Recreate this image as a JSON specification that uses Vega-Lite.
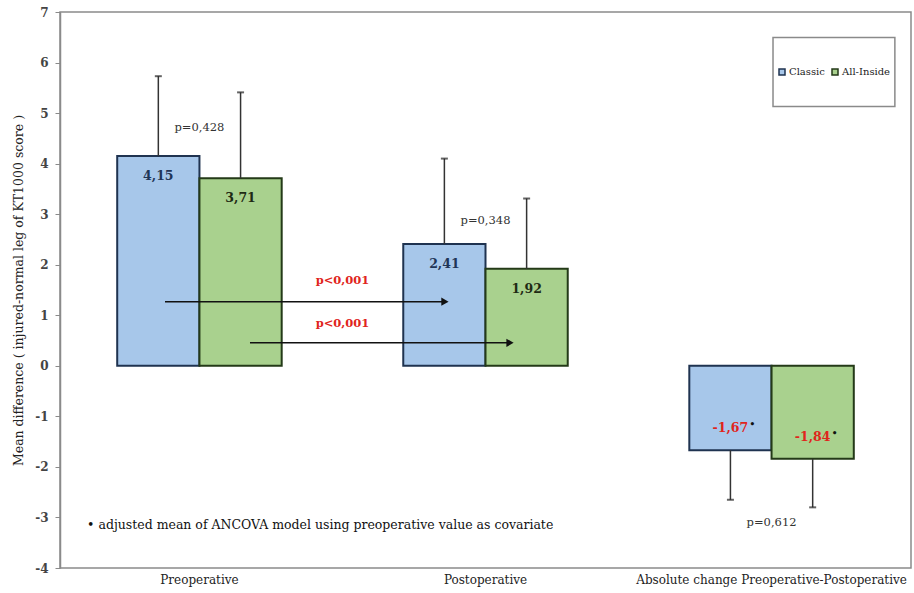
{
  "$schema": "https://vega.github.io/schema/vega-lite/v6.json",
  "autosize": "none",
  "width": 851,
  "height": 556,
  "padding": {"left": 60, "top": 12, "right": 3, "bottom": 25},
  "background": "white",
  "config": {
    "view": {"stroke": "#8a8a8a", "strokeWidth": 1.5},
    "font": "DejaVu Serif"
  },
  "datasets": {
    "bars": [
      {"cat": "Preoperative", "series": "Classic", "value": 4.15, "err": 5.73, "label": "4,15"},
      {"cat": "Preoperative", "series": "All-Inside", "value": 3.71, "err": 5.41, "label": "3,71"},
      {"cat": "Postoperative", "series": "Classic", "value": 2.41, "err": 4.10, "label": "2,41"},
      {"cat": "Postoperative", "series": "All-Inside", "value": 1.92, "err": 3.31, "label": "1,92"},
      {"cat": "Absolute change Preoperative-Postoperative", "series": "Classic", "value": -1.67, "err": -2.65, "label": "-1,67"},
      {"cat": "Absolute change Preoperative-Postoperative", "series": "All-Inside", "value": -1.84, "err": -2.80, "label": "-1,84"}
    ],
    "pvals": [
      {"cat": "Preoperative", "y": 4.71, "text": "p=0,428"},
      {"cat": "Postoperative", "y": 2.87, "text": "p=0,348"},
      {"cat": "Absolute change Preoperative-Postoperative", "y": -3.11, "text": "p=0,612"}
    ],
    "arrows": [
      {"x": -0.1206, "x2": 0.858, "y": 1.27},
      {"x": 0.1765, "x2": 1.0855, "y": 0.455}
    ],
    "notes": [
      {"x": 0.5, "y": 1.68, "text": "p<0,001"},
      {"x": 0.5, "y": 0.83, "text": "p<0,001"}
    ],
    "foot": [
      {"x": -0.393, "y": -3.15, "text": "• adjusted mean of ANCOVA model using preoperative value as covariate"}
    ],
    "box": [
      {"x": 2.005, "x2": 2.431, "y": 6.495, "y2": 5.129}
    ]
  },
  "resolve": {"scale": {"x": "independent"}},
  "layer": [
    {
      "layer": [
        {
          "data": {"name": "bars"},
          "mark": {"type": "bar", "strokeWidth": 2},
          "encoding": {
            "x": {
              "field": "cat", "type": "nominal", "sort": null,
              "scale": {"paddingInner": 0.425, "paddingOuter": 0.2},
              "axis": {"title": null, "labelAngle": 0, "ticks": false, "domain": false, "labelFont": "DejaVu Serif", "labelFontSize": 12, "labelColor": "#222", "labelPadding": 6, "labelLimit": 400}
            },
            "xOffset": {"field": "series", "type": "nominal", "sort": ["Classic", "All-Inside"], "scale": {"paddingInner": 0, "paddingOuter": 0}},
            "y": {
              "field": "value", "type": "quantitative",
              "scale": {"domain": [-4, 7], "nice": false, "zero": false},
              "axis": {
                "values": [-4, -3, -2, -1, 0, 1, 2, 3, 4, 5, 6, 7],
                "format": "d",
                "labelExpr": "replace(datum.label, '−', '-')",
                "grid": false, "tickSize": 5, "tickColor": "#8a8a8a", "domainColor": "#8a8a8a", "domainWidth": 1.5,
                "labelFont": "DejaVu Serif", "labelFontWeight": "bold", "labelFontSize": 12, "labelColor": "#444", "labelPadding": 7,
                "title": "Mean difference ( injured-normal leg of KT1000 score )",
                "titleFont": "DejaVu Serif", "titleFontSize": 12.5, "titleFontWeight": "normal", "titleColor": "#222", "titlePadding": 9
              }
            },
            "fill": {
              "field": "series", "type": "nominal", "sort": ["Classic", "All-Inside"],
              "scale": {"domain": ["Classic", "All-Inside"], "range": ["#a7c7ea", "#a9d18e"]},
              "legend": {
                "title": null, "orient": "none", "legendX": 717, "legendY": 55, "direction": "horizontal",
                "symbolType": "square", "symbolSize": 36, "symbolStrokeWidth": 1.5, "symbolStrokeColor": "#1f2a3a",
                "labelFont": "DejaVu Serif", "labelFontSize": 10, "labelColor": "#222", "labelOffset": 2,
                "columnPadding": 4, "padding": 0
              }
            },
            "stroke": {
              "field": "series", "type": "nominal",
              "scale": {"domain": ["Classic", "All-Inside"], "range": ["#1f3350", "#243a18"]},
              "legend": null
            }
          }
        },
        {
          "data": {"name": "bars"},
          "mark": {"type": "rule", "strokeWidth": 1.5, "color": "#333"},
          "encoding": {
            "x": {"field": "cat", "type": "nominal", "sort": null},
            "xOffset": {"field": "series", "type": "nominal", "sort": ["Classic", "All-Inside"]},
            "y": {"field": "value", "type": "quantitative"},
            "y2": {"field": "err"}
          }
        },
        {
          "data": {"name": "bars"},
          "mark": {"type": "tick", "size": 7, "thickness": 2, "color": "#222", "orient": "horizontal"},
          "encoding": {
            "x": {"field": "cat", "type": "nominal", "sort": null},
            "xOffset": {"field": "series", "type": "nominal", "sort": ["Classic", "All-Inside"]},
            "y": {"field": "err", "type": "quantitative"}
          }
        },
        {
          "data": {"name": "bars"},
          "transform": [{"filter": "datum.value > 0"}],
          "mark": {"type": "text", "dy": 20, "baseline": "middle", "font": "DejaVu Serif", "fontSize": 12.5, "fontWeight": "bold"},
          "encoding": {
            "x": {"field": "cat", "type": "nominal", "sort": null},
            "xOffset": {"field": "series", "type": "nominal", "sort": ["Classic", "All-Inside"]},
            "y": {"field": "value", "type": "quantitative"},
            "text": {"field": "label"},
            "color": {"condition": {"test": "datum.series === 'Classic'", "value": "#1f3557"}, "value": "#1e2a14"}
          }
        },
        {
          "data": {"name": "bars"},
          "transform": [{"filter": "datum.value < 0"}],
          "mark": {"type": "text", "dy": -22, "baseline": "middle", "font": "DejaVu Serif", "fontSize": 12.5, "fontWeight": "bold", "color": "#e0251c"},
          "encoding": {
            "x": {"field": "cat", "type": "nominal", "sort": null},
            "xOffset": {"field": "series", "type": "nominal", "sort": ["Classic", "All-Inside"]},
            "y": {"field": "value", "type": "quantitative"},
            "text": {"field": "label"}
          }
        },
        {
          "data": {"name": "bars"},
          "transform": [{"filter": "datum.value < 0"}],
          "mark": {"type": "text", "dy": -26, "dx": 19, "baseline": "middle", "align": "left", "font": "DejaVu Serif", "fontSize": 9, "fontWeight": "bold", "color": "#111", "text": "•"},
          "encoding": {
            "x": {"field": "cat", "type": "nominal", "sort": null},
            "xOffset": {"field": "series", "type": "nominal", "sort": ["Classic", "All-Inside"]},
            "y": {"field": "value", "type": "quantitative"}
          }
        },
        {
          "data": {"name": "pvals"},
          "mark": {"type": "text", "baseline": "middle", "font": "DejaVu Serif", "fontSize": 11.5, "color": "#333"},
          "encoding": {
            "x": {"field": "cat", "type": "nominal", "sort": null},
            "y": {"field": "y", "type": "quantitative"},
            "text": {"field": "text"}
          }
        },
        {
          "mark": {"type": "rule", "color": "#8a8a8a", "strokeWidth": 1.5},
          "encoding": {"y": {"datum": 0, "type": "quantitative"}}
        }
      ]
    },
    {
      "layer": [
        {
          "data": {"name": "box"},
          "mark": {"type": "rect", "fill": "white", "stroke": "#8a8a8a", "strokeWidth": 1.5},
          "encoding": {
            "x": {"field": "x", "type": "quantitative", "scale": {"domain": [-0.4877, 2.4874], "nice": false, "zero": false}, "axis": null},
            "x2": {"field": "x2"},
            "y": {"field": "y", "type": "quantitative"},
            "y2": {"field": "y2"}
          }
        },
        {
          "data": {"name": "arrows"},
          "mark": {"type": "rule", "color": "#111", "strokeWidth": 1.5},
          "encoding": {
            "x": {"field": "x", "type": "quantitative", "axis": null},
            "x2": {"field": "x2"},
            "y": {"field": "y", "type": "quantitative"}
          }
        },
        {
          "data": {"name": "arrows"},
          "mark": {"type": "point", "shape": "triangle-right", "filled": true, "color": "#111", "size": 70, "opacity": 1},
          "encoding": {
            "x": {"field": "x2", "type": "quantitative", "axis": null},
            "y": {"field": "y", "type": "quantitative"}
          }
        },
        {
          "data": {"name": "notes"},
          "mark": {"type": "text", "baseline": "middle", "font": "DejaVu Serif", "fontSize": 11.5, "fontWeight": "bold", "color": "#e0251c"},
          "encoding": {
            "x": {"field": "x", "type": "quantitative", "axis": null},
            "y": {"field": "y", "type": "quantitative"},
            "text": {"field": "text"}
          }
        },
        {
          "data": {"name": "foot"},
          "mark": {"type": "text", "align": "left", "baseline": "middle", "font": "DejaVu Serif", "fontSize": 12.5, "color": "#111"},
          "encoding": {
            "x": {"field": "x", "type": "quantitative", "axis": null},
            "y": {"field": "y", "type": "quantitative"},
            "text": {"field": "text"}
          }
        }
      ]
    }
  ]
}
